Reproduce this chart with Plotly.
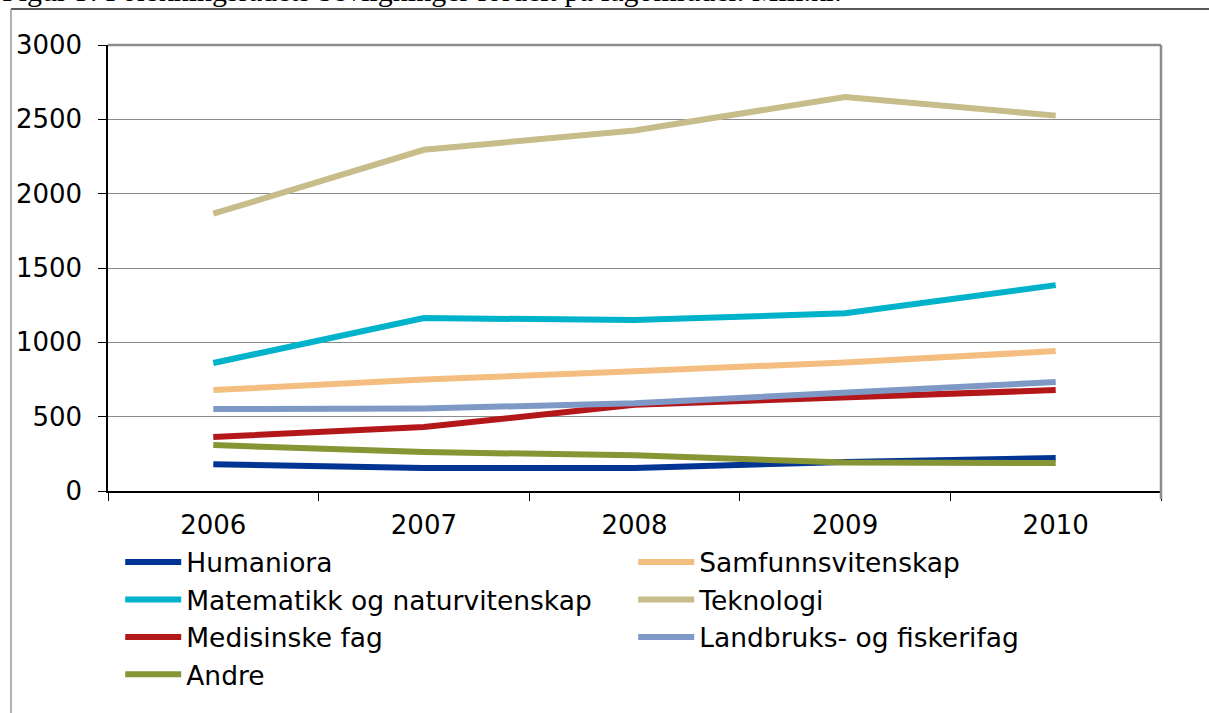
"""
Forskningsrådets bevilgninger fordelt på fagområder, 2006-2010 (mill. kr).
"""

import plotly.graph_objects as go


# Årene på x-aksen.
AAR = ["2006", "2007", "2008", "2009", "2010"]

# Bevilgninger per fagområde, lest av figuren (mill. kr).
HUMANIORA = [180, 155, 155, 195, 222]
SAMFUNNSVITENSKAP = [679, 750, 805, 865, 941]
MATEMATIKK = [861, 1163, 1150, 1195, 1385]
TEKNOLOGI = [1865, 2295, 2425, 2650, 2525]
MEDISINSKE = [363, 430, 580, 630, 679]
LANDBRUK = [551, 555, 590, 665, 733]
ANDRE = [309, 262, 240, 192, 188]

SERIER = [
    ("Humaniora", HUMANIORA, "#023593"),
    ("Samfunnsvitenskap", SAMFUNNSVITENSKAP, "#F4BE80"),
    ("Matematikk og naturvitenskap", MATEMATIKK, "#00B2CA"),
    ("Teknologi", TEKNOLOGI, "#C6BD8B"),
    ("Medisinske fag", MEDISINSKE, "#B4171A"),
    ("Landbruks- og fiskerifag", LANDBRUK, "#7F99C6"),
    ("Andre", ANDRE, "#879535"),
]

FONT = "DejaVu Sans"

fig = go.Figure()

for navn, verdier, farge in SERIER:
    fig.add_trace(
        go.Scatter(
            x=AAR,
            y=verdier,
            mode="lines",
            name=navn,
            line_color=farge,
            line_width=6,
        )
    )

fig.update_xaxes(
    type="category",
    range=[-0.5, 4.5],
    tickson="boundaries",
    ticks="outside",
    ticklen=8,
    tickcolor="#000000",
    ticklabelstandoff=10,
    showline=True,
    linecolor="#000000",
    linewidth=1.5,
    showgrid=False,
    zeroline=False,
    tickfont_size=26,
)

fig.update_yaxes(
    range=[0, 3000],
    dtick=500,
    ticks="outside",
    ticklen=8,
    tickcolor="#000000",
    ticklabelstandoff=11,
    showline=True,
    linecolor="#000000",
    linewidth=1.5,
    showgrid=True,
    gridcolor="#8C8C8C",
    gridwidth=1,
    zeroline=False,
    tickfont_size=26,
)

fig.update_layout(
    width=1209,
    height=713,
    font_family=FONT,
    font_color="#000000",
    plot_bgcolor="#FFFFFF",
    paper_bgcolor="#FFFFFF",
    margin=dict(l=108, r=48, t=45, b=222),
    showlegend=True,
    legend=dict(
        orientation="h",
        x=0.0116,
        y=-0.106,
        xanchor="left",
        yanchor="top",
        entrywidth=442,
        entrywidthmode="pixels",
        itemwidth=56,
        font_size=26.5,
        bgcolor="rgba(0,0,0,0)",
    ),
    shapes=[
        # ramme rundt hele figuren (topp og venstre)
        dict(type="line", xref="paper", yref="paper", x0=-0.0921, x1=1.05,
             y0=1.0807, y1=1.0807, line=dict(color="#222222", width=1.5)),
        dict(type="line", xref="paper", yref="paper", x0=-0.0921, x1=-0.0921,
             y0=1.0807, y1=-0.6, line=dict(color="#9A9A9A", width=1.5)),
        # grå kant oppe og til høyre i plottområdet
        dict(type="line", xref="paper", yref="paper", x0=0, x1=1,
             y0=1, y1=1, line=dict(color="#8C8C8C", width=2.5)),
        dict(type="line", xref="paper", yref="paper", x0=1, x1=1,
             y0=1, y1=-0.018, line=dict(color="#8C8C8C", width=2.5)),
    ],
    annotations=[
        dict(
            x=-0.1026,
            y=1,
            xref="paper",
            yref="paper",
            xanchor="left",
            yanchor="bottom",
            yshift=36,
            showarrow=False,
            text="Figur 5: Forskningsrådets bevilgninger fordelt på fagområder. Mill.kr.",
            font=dict(family="Liberation Serif", size=30, color="#000000"),
        ),
    ],
)

# Fjerner standardmargen i nettleseren slik at figuren starter i hjørnet.
fig.write_html(
    "out.html",
    config={"displayModeBar": False},
    post_script="document.body.style.margin='0';",
)
